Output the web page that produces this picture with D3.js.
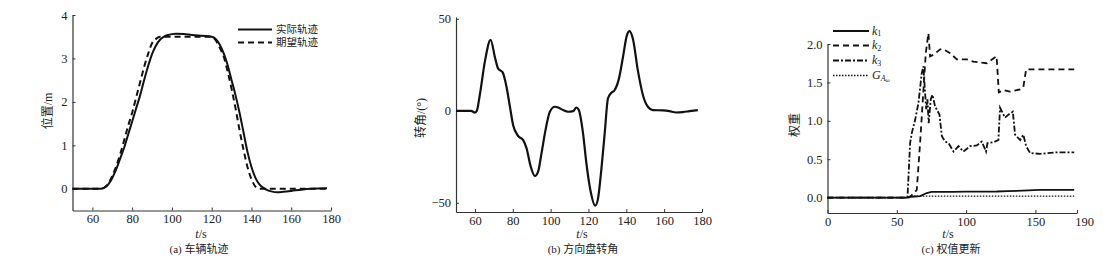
<!DOCTYPE html>
<html><head><meta charset="utf-8">
<script src="https://cdn.jsdelivr.net/npm/d3@7"></script>
<style>
body{margin:0;background:#fff;}
svg{display:block;}
</style></head><body>
<svg id="c" width="1110" height="270"></svg>
<script>
// ---- Panel (a) data: vehicle trajectory ----
const aTime = [50,64,66,68,70,72,74,76,78,80,82,84,86,88,90,92,94,96,98,100,102,106,110,115,120,122,124,126,128,130,132,134,136,138,140,142,144,146,148,150,153,156,160,165,170,178];
const aActual = [0,0,0.02,0.1,0.25,0.45,0.7,0.95,1.25,1.55,1.85,2.15,2.5,2.82,3.1,3.3,3.43,3.5,3.54,3.56,3.57,3.56,3.54,3.52,3.5,3.45,3.32,3.12,2.85,2.5,2.15,1.75,1.3,0.85,0.5,0.25,0.1,0.02,-0.03,-0.06,-0.08,-0.07,-0.05,-0.02,0,0.01];
const aDesiredTime = [50,64,66,68,70,72,74,76,78,80,82,84,86,88,90,92,94,96,105,115,120,122,124,126,128,130,132,134,136,138,140,142,144,150,160,170,178];
const aDesired = [0,0,0.03,0.12,0.3,0.52,0.8,1.12,1.45,1.75,2.1,2.45,2.8,3.1,3.35,3.45,3.5,3.5,3.5,3.5,3.5,3.42,3.25,3.05,2.7,2.3,1.85,1.35,0.9,0.5,0.22,0.05,0,0,0,0,0];
const aXTicks = [60,80,100,120,140,160,180];
const aYTicks = [0,1,2,3,4];
const aLegend = ["实际轨迹","期望轨迹"];

// ---- Panel (b) data: steering wheel angle ----
const bTime = [50,58,60,61,62.7,65.3,68.3,70.6,72.3,74.6,76.7,78.5,80.2,82.9,85.5,87.3,89.4,91.7,93.4,95.2,97.3,99.6,102.2,104,106.6,109.2,111.9,113.6,114.9,117.1,118.9,121,123.6,125,126.8,128.6,130.3,132,133.8,136.1,138.2,140.3,141.7,143.5,146.1,148.8,151.4,154,159.3,162.8,166.3,169.9,173.4,177.8];
const bAngle = [0,0,-1,0,9.4,27,38.6,29,22.9,21,13,2.2,-7.8,-13.7,-15.9,-20.4,-30,-35.4,-33,-23,-10.5,-0.5,2.2,1.8,0.4,-0.5,-0.2,1.8,0.4,-12,-28.5,-43,-51.5,-48,-32,-12,6.7,9.7,11.2,17.5,29,41,43.3,39,22,8.5,2.2,0.4,0.2,-0.2,-0.9,-0.7,-0.2,0.4];
const bXTicks = [60,80,100,120,140,160,180];
const bYTicks = [-50,0,50];

// ---- Panel (c) data: weight update ----
const k1Time = [0,57,60,63,66.8,71.6,75,90,100,110,122,130,141,153,165,178];
const k1 = [0,0,0.01,0.015,0.02,0.06,0.075,0.075,0.077,0.078,0.08,0.085,0.09,0.1,0.1,0.1];
const k2Time = [0,58,60,62,64.4,66.8,69.2,70.9,72.8,74,76.4,81.3,83.7,88.5,93.3,100.5,105.3,115,122,123.6,127,131.7,139,141.3,143.3,146,160,178];
const k2 = [0,0,0.02,0.05,0.1,0.71,1.4,1.88,2.14,1.84,1.86,1.93,1.93,1.88,1.8,1.8,1.77,1.75,1.84,1.37,1.4,1.38,1.41,1.44,1.67,1.67,1.67,1.67];
const k3Time = [0,57.7,59.6,60.8,63.2,65.6,68,69.2,70.4,71.2,72.1,73,74.5,75.7,77.6,80.8,82.5,84.9,87.3,90.9,94.5,98,102.9,107.7,111.3,114.4,115.4,119.7,123.3,124.5,128.1,130.5,133.7,135.3,139,141.3,143.3,146.2,153.4,165.4,178];
const k3 = [0,0,0.71,0.84,1.01,1.23,1.62,1.71,1.36,1.15,1.28,0.97,1.28,1.34,1.19,1.08,0.8,0.73,0.71,0.6,0.67,0.6,0.67,0.68,0.73,0.6,0.71,0.72,0.75,1.17,1.04,1.08,1.12,0.82,0.75,0.82,0.67,0.58,0.57,0.59,0.59];
const gTime = [0,59,60,178];
const gVal = [0,0,0.02,0.02];
const cXTicks = [0,50,100,150,180];
const cXTickLabels = ["0","50","100","150","190"];
const cYTicks = [0,0.5,1.0,1.5,2.0];

const SERIF = '"Liberation Serif","Times New Roman","DejaVu Serif",serif';
const CJK = '"Noto Sans CJK SC","Noto Sans",sans-serif';
const svg = d3.select("#c");

function axes(g, x, y, xt, yt, xfmt, yfmt){
  const xa = d3.axisBottom(x).tickValues(xt).tickSize(-3).tickSizeOuter(0).tickPadding(4).tickFormat(xfmt);
  const ya = d3.axisLeft(y).tickValues(yt).tickSize(-3).tickSizeOuter(0).tickPadding(5).tickFormat(yfmt);
  const gx = g.append("g").attr("transform",`translate(0,${y.range()[0]})`).call(xa);
  const gy = g.append("g").attr("transform",`translate(${x.range()[0]},0)`).call(ya);
  [gx,gy].forEach(a=>{
    a.attr("font-family",null).attr("font-size",null);
    a.select(".domain").attr("stroke","#333").attr("stroke-width",1.2);
    a.selectAll(".tick line").attr("stroke","#333");
    a.selectAll(".tick text").style("font-family",SERIF).style("font-size","12.5px").attr("fill","#222");
  });
  return {gx,gy};
}
function xlabel(cx, cy){
  const t = svg.append("text").attr("x",cx).attr("y",cy).attr("text-anchor","middle")
    .style("font-family",SERIF).style("font-size","12px").attr("fill","#222");
  t.append("tspan").style("font-style","italic").text("t");
  t.append("tspan").text("/s");
}
function caption(cx, cy, pre, cn){
  const t = svg.append("text").attr("x",cx).attr("y",cy).attr("text-anchor","middle")
    .style("font-family",SERIF).style("font-size","11px").attr("fill","#222");
  t.append("tspan").text(pre+" ");
  t.append("tspan").style("font-family",CJK).text(cn);
}
function ylabel(cx, cy, parts){
  const t = svg.append("text").attr("transform",`translate(${cx},${cy}) rotate(-90)`).attr("text-anchor","middle")
    .style("font-family",SERIF).style("font-size","12px").attr("fill","#222");
  parts.forEach(p=>{ const s=t.append("tspan").text(p[0]); if(p[1]) s.style("font-family",CJK); });
}

// ---------- Panel (a) ----------
{
  const x = d3.scaleLinear().domain([50,180]).range([72.5,331]);
  const y = d3.scaleLinear().domain([-0.5,4]).range([210.5,15]);
  const g = svg.append("g");
  axes(g,x,y,aXTicks,aYTicks,d3.format("d"),d3.format("d"));
  const line = d3.line().curve(d3.curveMonotoneX);
  g.append("path").attr("d",line(aDesiredTime.map((t,i)=>[x(t),y(aDesired[i])])))
    .attr("fill","none").attr("stroke","#111").attr("stroke-width",2).attr("stroke-dasharray","6,4");
  g.append("path").attr("d",line(aTime.map((t,i)=>[x(t),y(aActual[i])])))
    .attr("fill","none").attr("stroke","#111").attr("stroke-width",2);
  // legend
  const ly=[29.5,42.5];
  g.append("line").attr("x1",238).attr("x2",272).attr("y1",ly[0]).attr("y2",ly[0]).attr("stroke","#111").attr("stroke-width",2);
  g.append("line").attr("x1",238).attr("x2",272).attr("y1",ly[1]).attr("y2",ly[1]).attr("stroke","#111").attr("stroke-width",2).attr("stroke-dasharray","6,4");
  aLegend.forEach((s,i)=>g.append("text").attr("x",276).attr("y",ly[i]+3.8).style("font-size","10.5px").style("font-family",CJK).attr("fill","#222").text(s));
  xlabel(201,238);
  ylabel(52,111,[["位置",1],["/m",0]]);
  caption(199,253,"(a)","车辆轨迹");
}

// ---------- Panel (b) ----------
{
  const x = d3.scaleLinear().domain([50,180]).range([456,702]);
  const y = d3.scaleLinear().domain([-55,51]).range([212,17]);
  const g = svg.append("g");
  axes(g,x,y,bXTicks,bYTicks,d3.format("d"),d=>d<0?"\u2212"+Math.abs(d):String(d));
  const line = d3.line().curve(d3.curveMonotoneX);
  g.append("path").attr("d",line(bTime.map((t,i)=>[x(t),y(bAngle[i])])))
    .attr("fill","none").attr("stroke","#111").attr("stroke-width",2.2);
  xlabel(582,238);
  ylabel(425,118,[["转角",1],["/(°)",0]]);
  caption(583,253,"(b)","方向盘转角");
}

// ---------- Panel (c) ----------
{
  const x = d3.scaleLinear().domain([0,180]).range([827.5,1077]);
  const y = d3.scaleLinear().domain([-0.2,2.0]).range([213,44]);
  const g = svg.append("g");
  const ax = axes(g,x,y,cXTicks,cYTicks,(d,i)=>cXTickLabels[i],d3.format(".1f"));
  ax.gx.selectAll(".tick text").filter((d,i)=>i===4).attr("dx",7);
  const line = d3.line();
  const series = [
    {t:k1Time,v:k1,dash:null,w:1.8},
    {t:k2Time,v:k2,dash:"6,4",w:1.8},
    {t:k3Time,v:k3,dash:"6,2,2,2",w:1.8},
    {t:gTime,v:gVal,dash:"1.5,1.5",w:1.3}
  ];
  series.forEach(s=>{
    const p = g.append("path").attr("d",line(s.t.map((t,i)=>[x(t),y(s.v[i])])))
      .attr("fill","none").attr("stroke","#111").attr("stroke-width",s.w);
    if(s.dash) p.attr("stroke-dasharray",s.dash);
  });
  // legend
  const ly=[31,45.5,60.5,75.5];
  const subs=["1","2","3"];
  series.forEach((s,i)=>{
    const l = g.append("line").attr("x1",833).attr("x2",869).attr("y1",ly[i]).attr("y2",ly[i]).attr("stroke","#111").attr("stroke-width",s.w);
    if(s.dash) l.attr("stroke-dasharray",s.dash);
  });
  subs.forEach((s,i)=>{
    const t = g.append("text").attr("x",872).attr("y",ly[i]+3.5).style("font-family",SERIF).style("font-size","12px").attr("fill","#222");
    t.append("tspan").style("font-style","italic").text("k");
    t.append("tspan").style("font-size","8px").attr("dy",1.5).text(s);
  });
  const gt = g.append("text").attr("x",872).attr("y",ly[3]+3.5).style("font-family",SERIF).style("font-size","12px").attr("fill","#222");
  gt.append("tspan").style("font-style","italic").text("G");
  gt.append("tspan").style("font-style","italic").style("font-size","8px").attr("dy",2).text("A");
  gt.append("tspan").style("font-style","italic").style("font-size","6px").attr("dy",1.2).text("ω");
  xlabel(948,238);
  ylabel(799,125,[["权重",1]]);
  caption(951,253,"(c)","权值更新");
}
</script>
</body></html>
